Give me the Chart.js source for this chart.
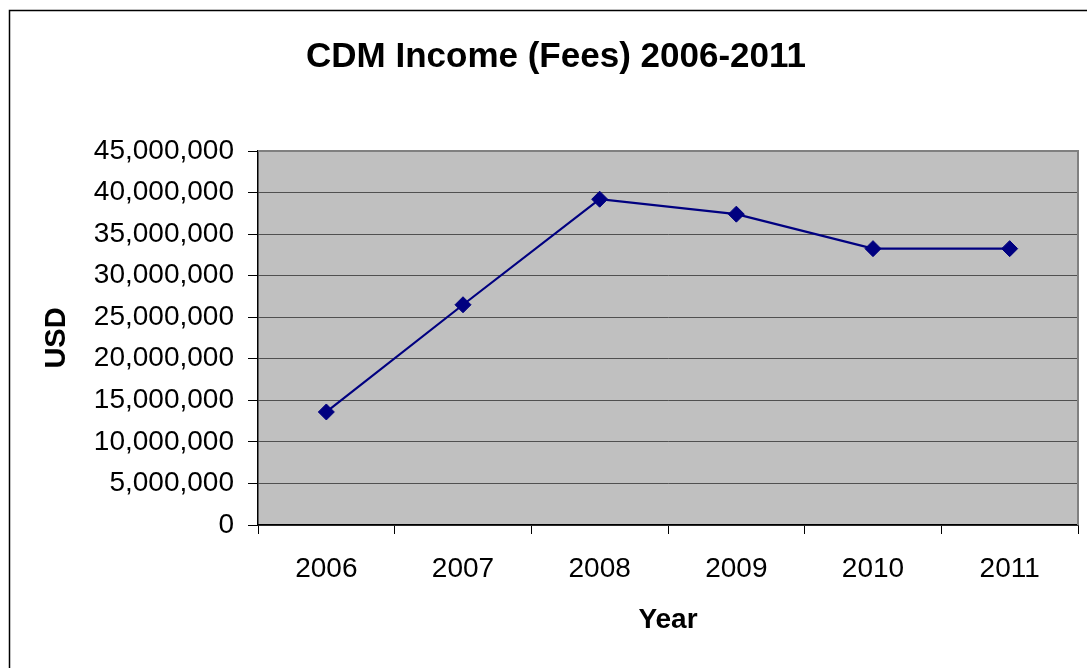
<!DOCTYPE html>
<html>
<head>
<meta charset="utf-8">
<title>CDM Income (Fees) 2006-2011</title>
<script src="https://cdn.jsdelivr.net/npm/chart.js@4/dist/chart.umd.min.js"></script>
<style>
  body { margin: 0; background: #fff; }
  canvas { display: block; }
</style>
</head>
<body>
<canvas id="chart" width="1087" height="668"></canvas>
<script>
// data
const years = ["2006", "2007", "2008", "2009", "2010", "2011"];
const fees = [13600000, 26500000, 39200000, 37400000, 33250000, 33250000];
const yMin = 0;
const yMax = 45000000;
const yStep = 5000000;

const font = "'Liberation Sans', Arial, sans-serif";

// grey plot area + frame + outer border
const frame = {
  id: "frame",
  beforeDraw(chart) {
    const { ctx, chartArea: a } = chart;
    ctx.save();
    ctx.fillStyle = "#c0c0c0";
    ctx.fillRect(a.left, a.top, a.right - a.left, a.bottom - a.top);
    ctx.restore();
  },
  afterDraw(chart) {
    const { ctx, chartArea: a } = chart;
    ctx.save();
    ctx.strokeStyle = "#808080";
    ctx.lineWidth = 2;
    ctx.beginPath();
    ctx.moveTo(a.left, a.top);
    ctx.lineTo(a.right, a.top);
    ctx.lineTo(a.right, a.bottom);
    ctx.stroke();
    ctx.strokeStyle = "#000";
    ctx.lineWidth = 1.5;
    ctx.strokeRect(9.5, 10.5, 1200, 800);
    ctx.restore();
  }
};

new Chart(document.getElementById("chart"), {
  type: "line",
  data: {
    labels: years,
    datasets: [{
      data: fees,
      borderColor: "#000080",
      backgroundColor: "#000080",
      borderWidth: 2.2,
      pointStyle: "rectRot",
      pointRadius: 8,
      pointHoverRadius: 8,
      pointBorderWidth: 1,
      tension: 0
    }]
  },
  options: {
    responsive: false,
    animation: false,
    layout: { padding: { left: 30, right: 5, top: 10, bottom: 0 } },
    plugins: {
      legend: { display: false },
      tooltip: { enabled: false },
      title: {
        display: true,
        text: "CDM Income (Fees) 2006-2011",
        color: "#000",
        font: { family: font, size: 35, weight: "bold" },
        padding: { top: 26, bottom: 73 }
      }
    },
    scales: {
      x: {
        offset: true,
        grid: {
          offset: true,
          drawOnChartArea: false,
          tickLength: 9,
          tickColor: "#000"
        },
        border: { color: "#000", width: 1.5 },
        ticks: {
          color: "#000",
          font: { family: font, size: 28 },
          padding: 18,
          maxRotation: 0
        },
        title: {
          display: true,
          text: "Year",
          color: "#000",
          font: { family: font, size: 28, weight: "bold" },
          padding: { top: 0, bottom: 31 }
        },
        afterFit(scale) { scale.height = 143; }
      },
      y: {
        min: yMin,
        max: yMax,
        grid: {
          color: "#505050",
          lineWidth: 1,
          tickLength: 10,
          tickColor: "#000"
        },
        border: { color: "#000", width: 1.5 },
        ticks: {
          stepSize: yStep,
          color: "#000",
          font: { family: font, size: 28 },
          padding: 14,
          callback: v => v.toLocaleString("en-US")
        },
        title: {
          display: true,
          text: "USD",
          color: "#000",
          font: { family: font, size: 29, weight: "bold" },
          padding: { top: 10, bottom: 0 }
        },
        afterFit(scale) { scale.width = 228; }
      }
    }
  },
  plugins: [frame]
});
</script>
</body>
</html>
